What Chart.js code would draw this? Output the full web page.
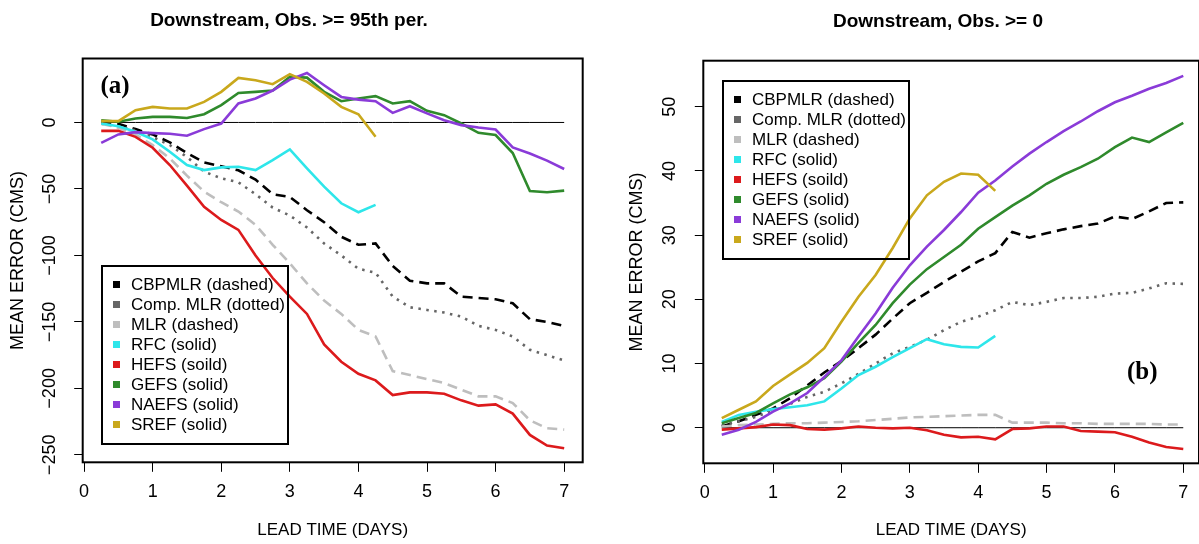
<!DOCTYPE html>
<html>
<head>
<meta charset="utf-8">
<script src="https://cdn.jsdelivr.net/npm/chart.js@4/dist/chart.umd.min.js"></script>
<style>
  html, body { margin: 0; padding: 0; background: #fff; overflow: hidden; }
  #wrap { position: relative; width: 1199px; height: 544px; overflow: hidden; background: #fff; }
  canvas { position: absolute; top: 0; }
  #chartA { left: 0; }
  #chartB { left: 600px; }
  .title { position: absolute; font: bold 19px "Liberation Sans", Arial, Helvetica, sans-serif; line-height: 19px;
           text-align: center; white-space: nowrap; color: #000; }
  .tag { position: absolute; font: bold 25px "Liberation Serif", "Times New Roman", serif; line-height: 25px; color: #000; }
  .legend { position: absolute; box-sizing: border-box; border: 2px solid #000; width: 188px; height: 180px;
            font: 17px "Liberation Sans", Arial, Helvetica, sans-serif; color: #000; }
  .legend .row { position: absolute; left: 0; height: 20px; line-height: 20px; white-space: nowrap; }
  .legend .sw { position: absolute; left: 9.5px; top: 6.5px; width: 7px; height: 7px; }
  .legend .tx { position: absolute; left: 28px; top: 0; }
</style>
</head>
<body>
<div id="wrap">
  <canvas id="chartA" width="600" height="544"></canvas>
  <canvas id="chartB" width="600" height="544"></canvas>
  <div class="title" style="left:0; width:578px; top:10px;">Downstream, Obs. &gt;= 95th per.</div>
  <div class="title" style="left:738px; width:400px; top:11px;">Downstream, Obs. &gt;= 0</div>
  <div class="tag" style="left:100.5px; top:71.5px;">(a)</div>
  <div class="tag" style="left:1127px; top:358px;">(b)</div>
  <div class="legend" id="legendA" style="left:101px; top:264.5px;"></div>
  <div class="legend" id="legendB" style="left:722px; top:79.5px;"></div>
</div>
<script>
// Lead times (days) at 6-hourly steps
const leadDays = [0.25, 0.5, 0.75, 1, 1.25, 1.5, 1.75, 2, 2.25, 2.5, 2.75, 3, 3.25, 3.5,
                  3.75, 4, 4.25, 4.5, 4.75, 5, 5.25, 5.5, 5.75, 6, 6.25, 6.5, 6.75, 7];

// Tick labels
const xTickValues = [0, 1, 2, 3, 4, 5, 6, 7];
const yTickValuesA = [-250, -200, -150, -100, -50, 0];
const yTickValuesB = [0, 10, 20, 30, 40, 50];

// Series names (as printed in the legend)
const seriesLabels = ['CBPMLR (dashed)', 'Comp. MLR (dotted)', 'MLR (dashed)', 'RFC (solid)',
                      'HEFS (soild)', 'GEFS (solid)', 'NAEFS (solid)', 'SREF (solid)'];

// Panel (a): observations >= 95th percentile, mean error (CMS)
const cbpmlrA  = [0, -1, -5, -9, -15, -23, -30, -33, -36, -43, -54, -56, -66, -75, -86, -92, -91,
                  -108, -119, -121, -121, -131, -132, -133, -136, -148, -150, -153];
const compMlrA = [-1, -3, -6, -11, -17, -26, -37, -42, -45, -54, -64, -70, -79, -91, -100, -110, -113,
                  -131, -139, -141, -143, -146, -153, -156, -161, -171, -175, -179];
const mlrA     = [-1, -4, -9, -17, -27, -40, -52, -60, -67, -77, -92, -106, -121, -134, -144, -156, -161,
                  -187, -190, -193, -196, -201, -206, -206, -211, -224, -230, -231];
const rfcA     = [-0.8, -2.8, -7, -12.7, -22, -32, -35.8, -33.8, -33.3, -35.8, -28.3, -20.3, -34.5, -48.3,
                  -60.8, -67.5, -62];
const hefsA    = [-6.3, -6.3, -10.8, -19, -32, -47.5, -63.5, -73.3, -80.8, -100, -117, -131, -144, -167,
                  -180, -189, -194, -205, -203, -203, -204, -209, -213, -212, -219, -235, -243, -245];
const gefsA    = [1.7, 0.5, 3, 4.2, 4.2, 3.4, 6.2, 13, 22.2, 23, 24, 34.3, 33.7, 23, 16, 18, 19.8,
                  14.3, 16, 8.7, 5.5, -0.8, -7.8, -9.5, -23, -51.5, -52.5, -51.3];
const naefsA   = [-15.3, -9, -7.3, -8, -8.5, -10, -5, -0.8, 14.3, 18, 24, 32.2, 37.2, 28, 19.2, 17.2, 16,
                  7.2, 12.2, 6.8, 1.7, -2, -3.8, -5.3, -18.8, -23.3, -28.7, -35];
const srefA    = [1, 1, 9.2, 11.7, 10.5, 10.5, 15.5, 23, 33.5, 31.8, 28.8, 36.3, 30.5, 21.8, 11.7, 6.2, -10.8];

// Panel (b): all observations, mean error (CMS)
const cbpmlrB  = [0.2, 1.0, 2.0, 3.0, 4.6, 6.6, 8.6, 10.4, 12.4, 14.5, 17, 19.4, 21.0, 22.7, 24.3, 25.9,
                  27.2, 30.5, 29.6, 30.3, 30.9, 31.4, 31.8, 32.9, 32.5, 33.7, 35, 35.1];
const compMlrB = [0.4, 1.0, 1.7, 2.7, 3.7, 4.8, 5.6, 6.9, 8.4, 10, 11.6, 12.6, 13.7, 15.2, 16.5, 17.3,
                  18.3, 19.6, 19.1, 19.6, 20.2, 20.2, 20.4, 20.9, 21, 21.7, 22.5, 22.4];
const mlrB     = [0.2, 0.4, 0.5, 0.6, 0.7, 0.7, 0.8, 0.9, 1.0, 1.2, 1.4, 1.6, 1.7, 1.8, 1.9, 2.0, 2.0,
                  0.8, 0.8, 0.8, 0.7, 0.7, 0.6, 0.6, 0.6, 0.6, 0.5, 0.5];
const rfcB     = [0.9, 2.0, 2.5, 2.9, 3.2, 3.5, 4.1, 6.1, 8.2, 9.5, 11.0, 12.4, 13.8, 13.0, 12.6, 12.5, 14.3];
const hefsB    = [-0.3, -0.1, 0.1, 0.5, 0.4, -0.2, -0.3, -0.1, 0.2, 0.0, -0.1, 0.0, -0.4, -1.1, -1.5, -1.4,
                  -1.8, -0.2, -0.1, 0.2, 0.2, -0.5, -0.6, -0.7, -1.4, -2.3, -3.0, -3.3];
const gefsB    = [0.7, 1.5, 2.3, 3.8, 5.2, 6.3, 7.7, 10.3, 13.2, 16, 19.4, 22.3, 24.7, 26.6, 28.5, 31,
                  32.8, 34.6, 36.2, 38, 39.4, 40.6, 41.9, 43.7, 45.2, 44.5, 46, 47.5];
const naefsB   = [-1.1, -0.3, 0.9, 2.5, 3.8, 5.4, 7.9, 10.5, 14.2, 17.8, 21.8, 25.3, 28.2, 30.8, 33.6, 36.6,
                  38.5, 40.7, 42.7, 44.5, 46.2, 47.7, 49.3, 50.7, 51.7, 52.8, 53.7, 54.8];
const srefB    = [1.5, 2.8, 4.1, 6.5, 8.3, 10.1, 12.4, 16.5, 20.4, 23.8, 28, 32.6, 36.2, 38.3, 39.6, 39.4, 36.9];

// Reference line at zero error
const zeroLine = leadDays.map(() => 0);

// Line styles per series
const seriesStyles = [
  { color: '#000000', dash: [10, 6], legend: '#000000' },
  { color: '#666666', dash: [2.5, 5.5], legend: '#666666' },
  { color: '#bebebe', dash: [10, 6], legend: '#bebebe' },
  { color: '#2ee6ea', dash: [], legend: '#2ee6ea' },
  { color: '#dc1a1c', dash: [], legend: '#dc1a1c' },
  { color: '#2f8a2c', dash: [], legend: '#2f8a2c' },
  { color: '#8a3bd8', dash: [], legend: '#8a3bd8' },
  { color: '#c9a81c', dash: [], legend: '#c9a81c' }
];

const FONT = '"Liberation Sans", Arial, Helvetica, sans-serif';

function toPoints(values) {
  return values.map((v, i) => ({ x: leadDays[i], y: v }));
}

function buildDatasets(seriesValues) {
  const sets = seriesValues.map((vals, i) => ({
    label: seriesLabels[i],
    data: toPoints(vals),
    borderColor: seriesStyles[i].color,
    backgroundColor: seriesStyles[i].legend,
    borderDash: seriesStyles[i].dash,
    borderWidth: 2.6,
    borderCapStyle: 'butt',
    pointRadius: 0,
    fill: false,
    tension: 0,
    order: seriesValues.length - i
  }));
  sets.push({
    label: 'zero',
    data: toPoints(zeroLine),
    borderColor: '#000000',
    borderWidth: 1,
    pointRadius: 0,
    fill: false,
    order: 99,
    isReference: true
  });
  return sets;
}

// Box around the plotting region
const plotFrame = {
  id: 'plotFrame',
  afterDraw(chart) {
    const { ctx, chartArea: a } = chart;
    ctx.save();
    ctx.strokeStyle = '#000';
    ctx.lineWidth = 2;
    ctx.strokeRect(a.left, a.top, a.right - a.left, a.bottom - a.top);
    ctx.restore();
  }
};

function minusLabel(v) {
  return v < 0 ? '\u2212' + Math.abs(v) : String(v);
}

function makeChart(canvasId, datasets, cfg) {
  return new Chart(document.getElementById(canvasId), {
    type: 'line',
    data: { datasets },
    plugins: [plotFrame],
    options: {
      responsive: false,
      animation: false,
      devicePixelRatio: 1,
      layout: { padding: { top: cfg.top, right: cfg.padRight, bottom: 0, left: 0 } },
      plugins: { legend: { display: false }, title: { display: false }, tooltip: { enabled: false } },
      scales: {
        x: {
          type: 'linear',
          min: cfg.xMin,
          max: cfg.xMax,
          afterFit: s => { s.height = cfg.xAxisH; },
          afterBuildTicks: s => { s.ticks = xTickValues.map(v => ({ value: v })); },
          grid: { drawOnChartArea: false, drawTicks: true, tickLength: 9.5, color: '#000', lineWidth: 1 },
          border: { display: true, color: '#000', width: 1 },
          ticks: { font: { family: FONT, size: 18 }, color: '#000', padding: 9, maxRotation: 0,
                   autoSkip: false, callback: v => String(v) },
          title: { display: true, text: 'LEAD TIME (DAYS)', color: '#000',
                   font: { family: FONT, size: 17 }, padding: { top: 3.5, bottom: 3.5 } }
        },
        y: {
          type: 'linear',
          min: cfg.yMin,
          max: cfg.yMax,
          afterFit: s => { s.width = cfg.yAxisW; },
          afterBuildTicks: s => { s.ticks = cfg.yTicks.map(v => ({ value: v })); },
          grid: { drawOnChartArea: false, drawTicks: true, tickLength: 8.5, color: '#000', lineWidth: 1 },
          border: { display: true, color: '#000', width: 1 },
          ticks: { font: { family: FONT, size: 18 }, color: '#000', minRotation: 90, maxRotation: 90,
                   crossAlign: 'center', padding: cfg.yTickPad, autoSkip: false, callback: minusLabel },
          title: { display: true, text: 'MEAN ERROR (CMS)', color: '#000',
                   font: { family: FONT, size: 18 }, padding: { top: cfg.yTitlePad, bottom: cfg.yTitlePad } }
        }
      }
    }
  });
}

const chartA = makeChart('chartA',
  buildDatasets([cbpmlrA, compMlrA, mlrA, rfcA, hefsA, gefsA, naefsA, srefA]),
  { top: 58.5, padRight: 17.3, xAxisH: 81.7, yAxisW: 82.7, xMin: -0.02, xMax: 7.27,
    yMin: -255.6, yMax: 48.1, yTicks: yTickValuesA, yTickPad: 3.5, yTitlePad: 7 });

const chartB = makeChart('chartB',
  buildDatasets([cbpmlrB, compMlrB, mlrB, rfcB, hefsB, gefsB, naefsB, srefB]),
  { top: 60.7, padRight: 1, xAxisH: 80.7, yAxisW: 103.3, xMin: -0.02, xMax: 7.23,
    yMin: -5.54, yMax: 57.17, yTicks: yTickValuesB, yTickPad: 15, yTitlePad: 26.7 });

// Legends inside the plotting regions, built from the chart datasets
function fillLegend(chart, elId) {
  const box = document.getElementById(elId);
  chart.data.datasets.filter(d => !d.isReference).forEach((d, i) => {
    const row = document.createElement('div');
    row.className = 'row';
    row.style.top = (8 + 20 * i) + 'px';
    const sw = document.createElement('div');
    sw.className = 'sw';
    sw.style.background = d.backgroundColor;
    const tx = document.createElement('div');
    tx.className = 'tx';
    tx.textContent = d.label;
    row.appendChild(sw);
    row.appendChild(tx);
    box.appendChild(row);
  });
}
fillLegend(chartA, 'legendA');
fillLegend(chartB, 'legendB');
</script>
</body>
</html>
